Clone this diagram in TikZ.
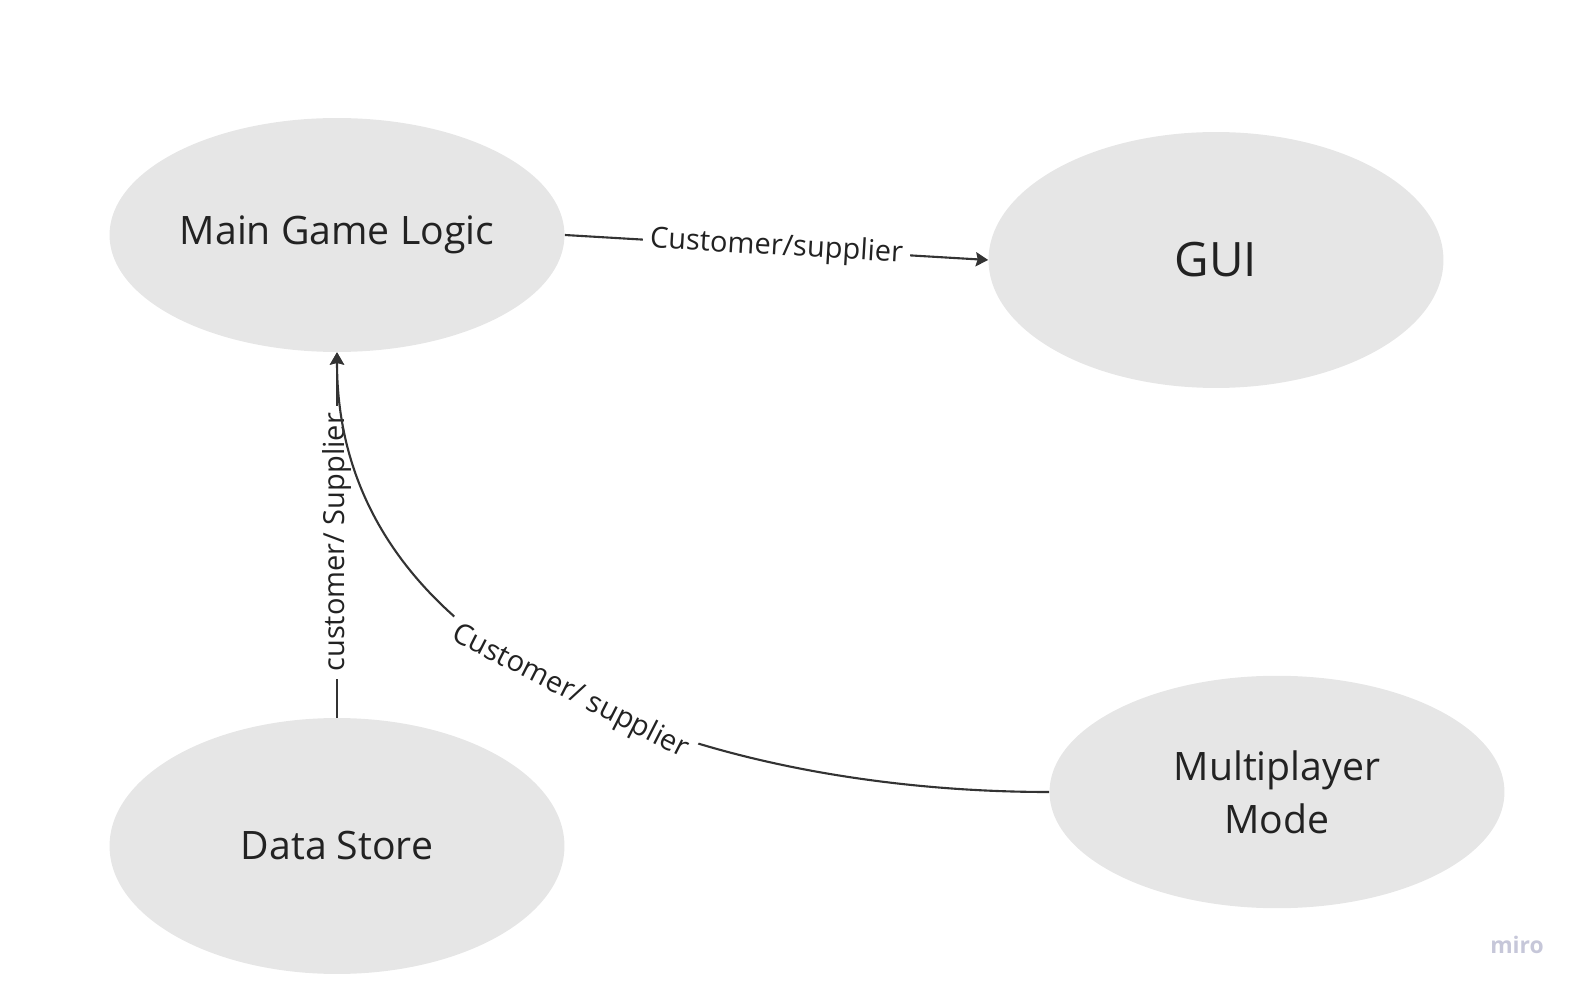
\documentclass[tikz,border=0pt]{standalone}
\usepackage{fontspec}
\setmainfont{Open Sans}
\usetikzlibrary{arrows.meta,shapes.geometric}
\definecolor{blasengrau}{HTML}{E6E6E6}
\definecolor{linie}{HTML}{333333}
\definecolor{schrift}{HTML}{222222}
\definecolor{logo}{HTML}{C6C7D9}
\begin{document}
\begin{tikzpicture}[x=0.02cm,y=-0.02cm,
    blase/.style={ellipse,fill=blasengrau,text=schrift,inner sep=0pt,
      minimum width=9.1cm,minimum height=4.68cm,font=\fontsize{22.3}{30}\selectfont},
    beziehung/.style={draw=linie,line width=1.2pt,
      -{Stealth[length=7pt,width=8pt,inset=1pt]}},
    etikett/.style={fill=white,text=schrift,inner sep=4pt,sloped,
      font=\fontsize{16.5}{20}\selectfont}]
       \useasboundingbox (0,0) rectangle (1579,989);
       % Komponenten
       \node[blase] (logik) at (337,235) {Main Game Logic};
       \node[blase,minimum height=5.12cm,font=\fontsize{27}{32}\selectfont] (gui) at (1216,260) {GUI};
       \node[blase,minimum height=5.12cm] (daten) at (337,846) {Data Store};
       \node[blase,minimum height=4.65cm,align=center] (mehr) at (1277,792) {Multiplayer\\Mode};
       % Beziehungen
       \draw[beziehung] (logik.east) -- node[etikett] {Customer/supplier} (gui.west);
       \draw[beziehung] (daten.north) -- node[etikett,pos=0.48] {customer/ Supplier} (logik.south);
       \draw[beziehung] (mehr.west) .. controls +(-328,0) and +(0,320) .. (logik.south)
          node[etikett,pos=0.5] {Customer/ supplier};
       % Logo
       \node[text=logo,font=\fontsize{13}{15}\selectfont\bfseries] (marke) at (1517,945) {miro};
    \end{tikzpicture}
\end{document}
